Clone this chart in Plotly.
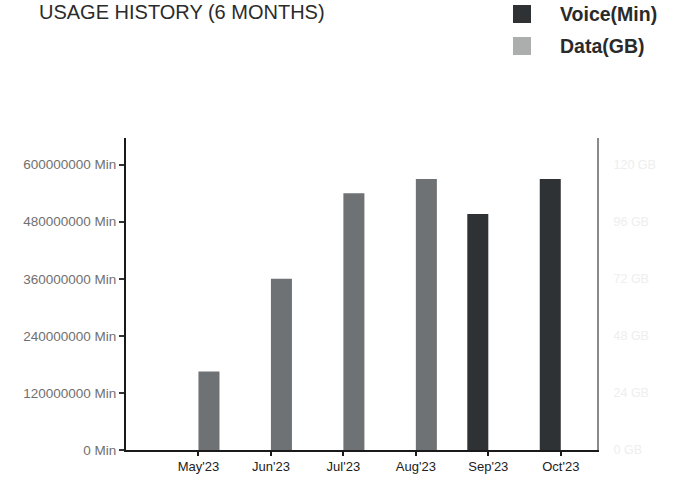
import plotly.graph_objects as go

# Monthly usage: voice minutes (left axis) and data volume (right axis)
months = ["May'23", "Jun'23", "Jul'23", "Aug'23", "Sep'23", "Oct'23"]
voice_min = [None, None, None, None, 496000000, 570000000]
data_gb = [33, 72, 108, 114, None, None]

voice_ticks = [0, 120000000, 240000000, 360000000, 480000000, 600000000]
data_ticks = [0, 24, 48, 72, 96, 120]

VOICE_COLOR = "#2f3234"
DATA_BAR_COLOR = "#6e7275"
DATA_KEY_COLOR = "#acaeae"
FONT = "Liberation Sans, Arial, sans-serif"

W, H = 679, 485
M_L, M_R, M_T, M_B = 126, 82, 138, 35
PW, PH = W - M_L - M_R, H - M_T - M_B


def px_x(p):
    return (p - M_L) / PW


def px_y(p):
    return 1 + (M_T - p) / PH


fig = go.Figure()
fig.add_trace(go.Bar(
    x=months, y=voice_min, name="Voice(Min)", marker_color=VOICE_COLOR,
    marker_line_width=0, width=0.29, offset=-0.29, showlegend=False,
))
fig.add_trace(go.Bar(
    x=months, y=data_gb, name="Data(GB)", marker_color=DATA_BAR_COLOR,
    marker_line_width=0, width=0.29, offset=0, yaxis="y2", showlegend=False,
))

# Title
annotations = [dict(
    text="USAGE HISTORY (6 MONTHS)", xref="paper", yref="paper",
    x=px_x(37), y=px_y(-1), xanchor="left", yanchor="top", showarrow=False,
    font=dict(family=FONT, size=20, color="#2b2b2b"),
)]
shapes = []

# Key
for label, color, top in [("Voice(Min)", VOICE_COLOR, 5), ("Data(GB)", DATA_KEY_COLOR, 37)]:
    shapes.append(dict(
        type="rect", xref="paper", yref="paper",
        x0=px_x(513), x1=px_x(531), y0=px_y(top + 18), y1=px_y(top),
        fillcolor=color, line_width=0,
    ))
    annotations.append(dict(
        text=f"<b>{label}</b>", xref="paper", yref="paper",
        x=px_x(558), y=px_y(top + 9), xanchor="left", yanchor="middle",
        showarrow=False, font=dict(family=FONT, size=19.5, color="#2a2a2a"),
    ))

fig.update_layout(
    width=W, height=H,
    margin=dict(l=M_L, r=M_R, t=M_T, b=M_B, pad=0),
    paper_bgcolor="white", plot_bgcolor="white",
    barmode="overlay",
    annotations=annotations, shapes=shapes,
    xaxis=dict(
        type="category", categoryorder="array", categoryarray=months,
        range=[-1, 5.5], showgrid=False, zeroline=False,
        showline=True, linecolor="#1a1a1a", linewidth=1.5,
        ticks="outside", ticklen=4, tickwidth=1.5, tickcolor="#1a1a1a",
        tickfont=dict(family=FONT, size=13, color="#222222"),
    ),
    yaxis=dict(
        range=[0, 656000000], tickvals=voice_ticks,
        ticktext=[f"{v} Min" for v in voice_ticks],
        showgrid=False, zeroline=False,
        showline=True, linecolor="#1a1a1a", linewidth=2,
        ticks="outside", ticklen=5, tickwidth=1.5, tickcolor="#333333",
        tickfont=dict(family=FONT, size=13.5, color="#707070"),
    ),
    yaxis2=dict(
        range=[0, 131.2], tickvals=data_ticks,
        ticktext=[f"{v} GB" for v in data_ticks],
        overlaying="y", side="right", showgrid=False, zeroline=False,
        showline=True, linecolor="#8a8a8a", linewidth=2,
        ticks="", ticklabelstandoff=12,
        tickfont=dict(family=FONT, size=12.5, color="#eeeeee"),
    ),
)

fig.write_html("out.html")
